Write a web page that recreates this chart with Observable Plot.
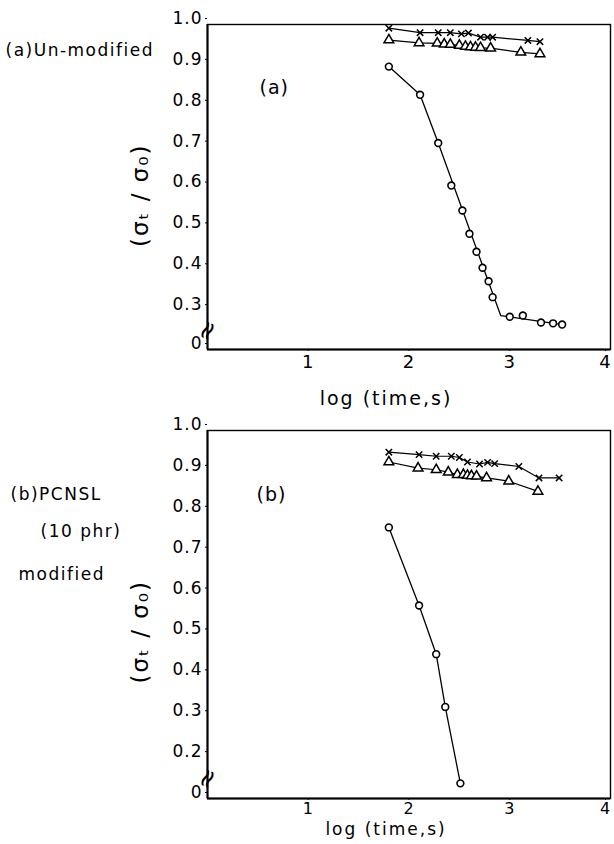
<!DOCTYPE html>
<html>
<head>
<meta charset="utf-8">
<script src="https://cdn.jsdelivr.net/npm/d3@7"></script>
<script src="https://cdn.jsdelivr.net/npm/@observablehq/plot@0.6"></script>
<style>
  html, body { margin: 0; padding: 0; background: #fff; }
  #chart { width: 614px; height: 844px; position: relative; overflow: hidden; }
  #chart svg { display: block; }
  #chart text { letter-spacing: 1px; }
</style>
</head>
<body>
<div id="chart"></div>
<script>
// ---------- tick labels ----------
const xTicks = [1, 2, 3, 4];
const yTicksA = [0.3, 0.4, 0.5, 0.6, 0.7, 0.8, 0.9, 1.0];
const yTicksB = [0.2, 0.3, 0.4, 0.5, 0.6, 0.7, 0.8, 0.9, 1.0];
const zeroLabel = "0";
const breakA = 0.205;   // value position where the broken axis shows "0" (panel a)
const breakB = 0.1;     // same for panel b

// ---------- panel (a) un-modified ----------
const aCrossX = [1.80, 2.11, 2.29, 2.41, 2.52, 2.59, 2.71, 2.78, 2.83, 3.18, 3.30];
const aCrossY = [0.991, 0.980, 0.980, 0.980, 0.977, 0.979, 0.969, 0.969, 0.969, 0.961, 0.958];
const aTriX = [1.80, 2.10, 2.28, 2.35, 2.41, 2.50, 2.56, 2.61, 2.66, 2.71, 2.81, 3.11, 3.30];
const aTriY = [0.962, 0.955, 0.954, 0.952, 0.951, 0.949, 0.946, 0.945, 0.944, 0.943, 0.942, 0.932, 0.928];
const aCircX = [1.80, 2.11, 2.29, 2.42, 2.53, 2.60, 2.67, 2.73, 2.79, 2.83, 3.00, 3.13, 3.31, 3.43, 3.52];
const aCircY = [0.897, 0.828, 0.710, 0.606, 0.545, 0.488, 0.444, 0.405, 0.372, 0.333, 0.285, 0.288, 0.271, 0.269, 0.266];
const aFitX = [1.80, 2.11, 2.29, 2.91, 3.52];
const aFitY = [0.897, 0.828, 0.710, 0.288, 0.266];

// ---------- panel (b) PCNSL modified ----------
const bCrossX = [1.80, 2.10, 2.27, 2.42, 2.50, 2.58, 2.70, 2.78, 2.85, 3.09, 3.29, 3.49];
const bCrossY = [0.947, 0.941, 0.937, 0.937, 0.934, 0.923, 0.918, 0.922, 0.919, 0.912, 0.884, 0.884];
const bTriX = [1.80, 2.09, 2.27, 2.39, 2.48, 2.54, 2.58, 2.62, 2.67, 2.77, 2.99, 3.28];
const bTriY = [0.923, 0.908, 0.904, 0.898, 0.892, 0.892, 0.890, 0.889, 0.888, 0.884, 0.876, 0.851];
const bCircX = [1.80, 2.10, 2.27, 2.36, 2.51];
const bCircY = [0.763, 0.572, 0.453, 0.324, 0.137];

const pts = (xs, ys) => xs.map((x, i) => ({x, y: ys[i]}));
const font = "DejaVu Sans";

function panel(o) {
  const crosses = pts(o.crossX, o.crossY);
  const tris = pts(o.triX, o.triY);
  const circs = pts(o.circX, o.circY);
  const fit = pts(o.fitX, o.fitY);
  const ticks = [o.brk, ...o.yTicks];
  const yfmt = d => d === o.brk ? zeroLabel : d.toFixed(1);
  const lastX = xTicks[xTicks.length - 1];
  return Plot.plot({
    width: 614,
    height: o.height,
    marginLeft: 207,
    marginRight: 4,
    marginTop: o.mt,
    marginBottom: o.mb,
    style: {fontFamily: font, fontSize: "17px", color: "black", background: "white", overflow: "visible"},
    x: {domain: [0, 4], label: null},
    y: {domain: [o.brk, 1.0], label: null},
    marks: [
      Plot.frame({stroke: "black", strokeWidth: 1.4}),
      Plot.ruleX([0], {stroke: "black", strokeWidth: 2}),
      Plot.ruleY([o.brk], {stroke: "black", strokeWidth: 2}),
      Plot.axisY({ticks, tickSize: 2, tickPadding: 3, dy: -6, tickFormat: yfmt, fontSize: 17, label: null}),
      Plot.axisX({ticks: xTicks.slice(0, -1), tickSize: 2, tickPadding: o.xtPad, tickFormat: d => String(d), fontSize: o.xtSize, label: null}),
      Plot.axisX({ticks: [lastX], tickSize: 2, tickPadding: o.xtPad, tickFormat: d => String(d), fontSize: o.xtSize, dx: -5, label: null}),
      Plot.text(["≈"], {x: 0, y: (o.brk + o.yTicks[0]) / 2, rotate: -65, fontSize: 26}),
      Plot.line(crosses, {x: "x", y: "y", stroke: "black", strokeWidth: 1.2}),
      Plot.line(tris, {x: "x", y: "y", stroke: "black", strokeWidth: 1.2}),
      Plot.line(fit, {x: "x", y: "y", stroke: "black", strokeWidth: 1.3}),
      Plot.dot(crosses, {x: "x", y: "y", symbol: "times", r: 3, stroke: "black", strokeWidth: 1.5}),
      Plot.dot(tris, {x: "x", y: "y", symbol: "triangle", r: 3.6, stroke: "black", fill: "white", strokeWidth: 1.5}),
      Plot.dot(circs, {x: "x", y: "y", symbol: "circle", r: 3.4, stroke: "black", fill: "white", strokeWidth: 1.6}),
      Plot.text([o.tag], {frameAnchor: "top-left", dx: o.tagDx, dy: o.tagDy, fontSize: 19}),
      Plot.text(["log (time,s)"], {frameAnchor: "bottom", dx: -23, dy: o.xlDy, fontSize: o.xlSize}),
      Plot.text(["(σₜ / σ₀)"], {frameAnchor: "left", dx: -67, dy: o.ylDy, rotate: -90, fontSize: 23}),
      ...o.side.map(s => Plot.text([s.t], {frameAnchor: "top-left", textAnchor: "start", dx: s.dx, dy: s.dy, fontSize: 17}))
    ]
  });
}

const svgA = panel({
  height: 415, mt: 24, mb: 66, brk: breakA, yTicks: yTicksA,
  crossX: aCrossX, crossY: aCrossY, triX: aTriX, triY: aTriY,
  circX: aCircX, circY: aCircY, fitX: aFitX, fitY: aFitY,
  xtPad: 4, xtSize: 18, xlSize: 19,
  tag: "(a)", tagDx: 52, tagDy: 56, xlDy: 55, ylDy: 60,
  side: [{t: "(a)Un-modified", dx: -202, dy: 19}]
});
const svgB = panel({
  height: 429, mt: 15, mb: 46, brk: breakB, yTicks: yTicksB,
  crossX: bCrossX, crossY: bCrossY, triX: bTriX, triY: bTriY,
  circX: bCircX, circY: bCircY, fitX: bCircX, fitY: bCircY,
  xtPad: 2, xtSize: 16, xlSize: 17,
  tag: "(b)", tagDx: 49, tagDy: 57, xlDy: 36, ylDy: 69,
  side: [
    {t: "(b)PCNSL", dx: -197, dy: 57},
    {t: "(10 phr)", dx: -167, dy: 94},
    {t: "modified", dx: -189, dy: 137}
  ]
});
const chart = document.getElementById("chart");
chart.appendChild(svgA);
chart.appendChild(svgB);
// wider lettering for the axis titles, as in the scanned figure
d3.select(chart).selectAll("text")
  .filter(function() { return this.textContent === "log (time,s)"; })
  .style("letter-spacing", "2px");
d3.select(chart).selectAll("text")
  .filter(function() { return this.textContent.startsWith("(σ"); })
  .style("letter-spacing", "2px");
d3.select(chart).selectAll("text")
  .filter(function() { return ["(a)Un-modified", "(b)PCNSL", "(10 phr)", "modified"].includes(this.textContent); })
  .style("letter-spacing", "1.5px");
</script>
</body>
</html>
